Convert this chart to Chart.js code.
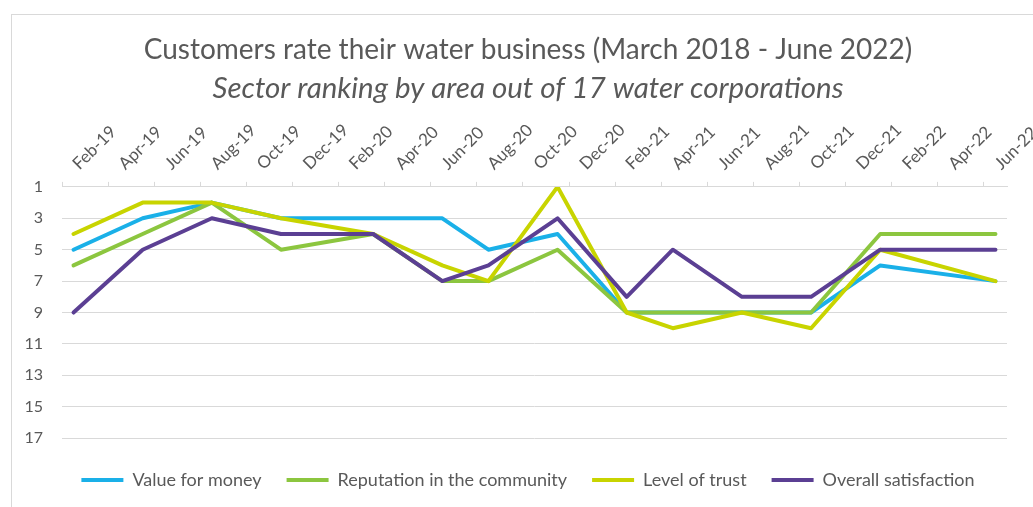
<!DOCTYPE html>
<html>
<head>
<meta charset="utf-8">
<script src="https://cdn.jsdelivr.net/npm/chart.js@4/dist/chart.umd.min.js"></script>
<style>
  html, body { margin: 0; padding: 0; background: #fff; overflow: hidden; }
  #frame {
    position: absolute; left: 11px; top: 14px;
    width: 1022px; height: 493px; box-sizing: border-box;
    border-top: 1px solid #d9d9d9; border-left: 1px solid #d9d9d9;
  }
</style>
</head>
<body>
<div id="frame"><canvas id="rankChart"></canvas></div>
<script>
// x axis = months counted from Feb-19, labels every 2 months
const tickLabels = ['Feb-19','Apr-19','Jun-19','Aug-19','Oct-19','Dec-19','Feb-20','Apr-20','Jun-20','Aug-20',
  'Oct-20','Dec-20','Feb-21','Apr-21','Jun-21','Aug-21','Oct-21','Dec-21','Feb-22','Apr-22','Jun-22'];
const surveyMonths = ['Feb-19','May-19','Aug-19','Nov-19','Mar-20','Jun-20','Aug-20','Nov-20',
  'Feb-21','Apr-21','Jul-21','Oct-21','Jan-22','Jun-22'];
const rankTicks = [1, 3, 5, 7, 9, 11, 13, 15, 17];

// rankings (1 = best of 17)
const valueForMoney = [5, 3, 2, 3, 3, 3, 5, 4, 9, 9, 9, 9, 6, 7];
const reputation    = [6, 4, 2, 5, 4, 7, 7, 5, 9, 9, 9, 9, 4, 4];
const levelOfTrust  = [4, 2, 2, 3, 4, 6, 7, 1, 9, 10, 9, 10, 5, 7];
const overallSat    = [9, 5, 3, 4, 4, 7, 6, 3, 8, 5, 8, 8, 5, 5];

const MONTHS = ['Jan','Feb','Mar','Apr','May','Jun','Jul','Aug','Sep','Oct','Nov','Dec'];
const monthIdx = s => {
  const [m, y] = s.split('-');
  return (+y - 19) * 12 + MONTHS.indexOf(m) - 1;
};
const xs = surveyMonths.map(monthIdx);
const pts = vals => vals.map((v, i) => ({ x: xs[i], y: v }));

const FONT = "Lato, 'Open Sans', sans-serif";
const GREY = '#595959';

function series(label, vals, color, order) {
  return { label, data: pts(vals), borderColor: color, backgroundColor: color,
    borderWidth: 4, pointRadius: 0, tension: 0, borderJoinStyle: 'round', borderCapStyle: 'round', order };
}

new Chart(document.getElementById('rankChart').getContext('2d'), {
  type: 'line',
  data: { datasets: [
    series('Value for money', valueForMoney, '#1ab0e8', 3),
    series('Reputation in the community', reputation, '#8cc63f', 2),
    series('Level of trust', levelOfTrust, '#c8d400', 1),
    series('Overall satisfaction', overallSat, '#5b3f93', 0)
  ]},
  options: {
    responsive: true,
    maintainAspectRatio: false,
    animation: false,
    layout: { padding: { left: 13, right: 2, top: 0, bottom: 8 } },
    plugins: {
      title: { display: true, text: 'Customers rate their water business (March 2018 - June 2022)',
        color: GREY, font: { family: FONT, size: 28, weight: 'normal' }, padding: { top: 18, bottom: 0 } },
      subtitle: { display: true, text: 'Sector ranking by area out of 17 water corporations',
        color: GREY, font: { family: FONT, size: 29.5, style: 'italic', weight: 'normal' }, padding: { top: 4, bottom: 6 } },
      legend: { position: 'bottom',
        labels: { color: GREY, font: { family: FONT, size: 18 }, boxWidth: 42, boxHeight: 4, padding: 25,
          sort: (a, b) => a.datasetIndex - b.datasetIndex,
          generateLabels: chart => Chart.defaults.plugins.legend.labels.generateLabels(chart).map(l => ({ ...l, lineWidth: 0 })) } },
      tooltip: { enabled: false }
    },
    scales: {
      x: {
        type: 'linear', position: 'top', min: -0.5, max: 40.5,
        afterBuildTicks: axis => { axis.ticks = tickLabels.map((_, i) => ({ value: i * 2 - 0.5 })); },
        afterFit: axis => { axis.paddingLeft = 0; axis.paddingRight = 26; },
        ticks: { color: GREY, font: { family: FONT, size: 17 }, minRotation: 45, maxRotation: 45,
          padding: 8, labelOffset: 28, autoSkip: false, callback: (v, i) => tickLabels[i] },
        grid: { drawOnChartArea: false, drawTicks: true, tickLength: 5, color: '#d9d9d9' },
        border: { display: true, color: '#d9d9d9' }
      },
      y: {
        reverse: true, min: 1, max: 17.5,
        afterBuildTicks: axis => { axis.ticks = rankTicks.map(v => ({ value: v })); },
        afterFit: axis => { axis.width = 37; },
        ticks: { color: GREY, font: { family: FONT, size: 16 }, padding: 19 },
        grid: { color: '#d9d9d9', drawTicks: false },
        border: { display: false }
      }
    }
  }
});
</script>
</body>
</html>
